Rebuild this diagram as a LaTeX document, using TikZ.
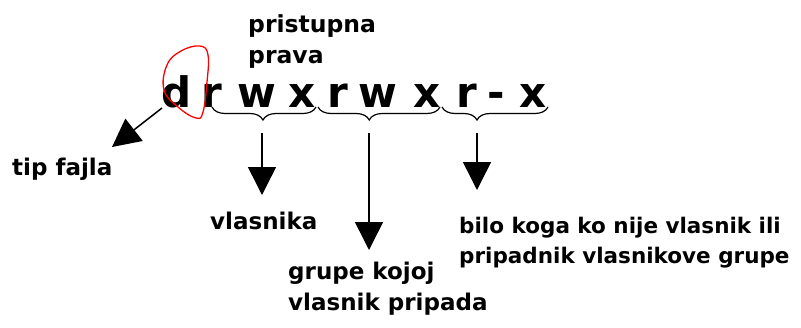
\documentclass[tikz,border=0pt]{standalone}
\usepackage{fontspec}
\setmainfont{DejaVu Sans}
\usetikzlibrary{arrows.meta,decorations.pathreplacing}

\tikzset{
    bit/.style={anchor=base, inner sep=0pt, font=\fontsize{42}{42}\selectfont\bfseries},
    label/.style={anchor=north west, inner sep=0pt, align=left,
        font=\fontsize{23}{31}\selectfont\bfseries},
    group/.style={decorate, decoration={brace, mirror, amplitude=13pt}, line width=1.2pt},
    pointer/.style={line width=1.5pt, -{Triangle[width=28pt,length=28pt]}}
}

\begin{document}
\begin{tikzpicture}[x=1pt, y=-1pt]

    \useasboundingbox (0,0) rectangle (801,327);

    % permission string
    \foreach \ch/\px [count=\i] in {d/177, r/212, w/257, x/302, r/338, w/378, x/427, r/467, -/496, x/533}
        \node[bit] (l\i) at (\px,107) {\ch};

    % title
    \node[label, font=\fontsize{23.5}{31}\selectfont\bfseries] (title) at (248,14) {pristupna\\prava};

    % red loop round the file type
    \draw[red, line width=1.3pt] plot[smooth cycle, tension=0.7] coordinates
        {(200,46) (208,55) (207,82) (203,112) (196,118) (178,107) (164,90) (167,65) (181,51)};

    % braces over the three triples
    \draw[group, decoration={aspect=0.49}] (212,107) -- (316,107);
    \draw[group, decoration={aspect=0.42}] (318,107) -- (440,107);
    \draw[group, decoration={aspect=0.33}] (442,107) -- (548,107);

    \coordinate (b1) at (262,133);
    \coordinate (b2) at (369,133);
    \coordinate (b3) at (477,133);
    \coordinate (d0) at (162,108);

    % labels
    \node[label] (type) at (12,158) {tip fajla};
    \node[label] (owner) at (210,212) {vlasnika};
    \node[label] (grp) at (288,262) {grupe kojoj\\vlasnik pripada};
    \node[label, font=\fontsize{21.5}{30}\selectfont\bfseries] (other) at (459,217)
        {bilo koga ko nije vlasnik ili\\pripadnik vlasnikove grupe};

    % arrows
    \draw[pointer] (d0) -- (112,147) coordinate (t0);
    \draw[pointer, shorten >=17pt] (b1) -- (b1 |- owner.north);
    \draw[pointer, shorten >=12pt] (b2) -- (b2 |- grp.north);
    \draw[pointer, shorten >=27pt] (b3) -- (b3 |- other.north);

\end{tikzpicture}
\end{document}
